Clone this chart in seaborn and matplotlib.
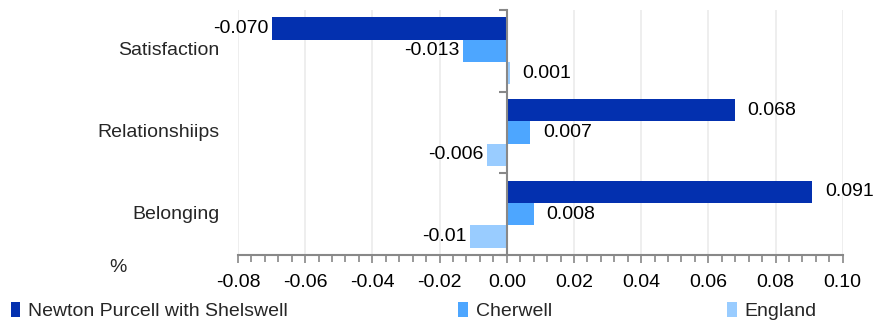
import matplotlib
matplotlib.use("Agg")
import matplotlib.pyplot as plt
from matplotlib.ticker import MultipleLocator, FixedLocator
import pandas as pd
import seaborn as sns

# values
categories = ["Satisfaction", "Relationshiips", "Belonging"]
areas = ["Newton Purcell with Shelswell", "Cherwell", "England"]
newton = [-0.070, 0.068, 0.091]
cherwell = [-0.013, 0.007, 0.008]
england = [0.001, -0.006, -0.011]
label_text = {
    "Newton Purcell with Shelswell": ["-0.070", "0.068", "0.091"],
    "Cherwell": ["-0.013", "0.007", "0.008"],
    "England": ["0.001", "-0.006", "-0.01"],
}
colours = ["#0330AF", "#4DA6FF", "#99CCFF"]

rows = []
for a, vals in zip(areas, [newton, cherwell, england]):
    for c, v in zip(categories, vals):
        rows.append({"cat": c, "area": a, "val": v})
df = pd.DataFrame(rows)

sns.set_theme(style="white")
plt.rcParams["font.family"] = ["Liberation Sans", "DejaVu Sans"]
FS = 14

fig = plt.figure(figsize=(8.88, 3.23), dpi=100)
ax = fig.add_axes([0.268, 0.2105, 0.681, 0.7585])

sns.barplot(data=df, y="cat", x="val", hue="area", order=categories,
            hue_order=areas, palette=colours, orient="h", width=0.82,
            saturation=1, errorbar=None, ax=ax, legend=True,
            linewidth=0, edgecolor="none")

ax.set_xlim(-0.08, 0.10)
ax.xaxis.set_major_locator(MultipleLocator(0.02))
ax.xaxis.set_minor_locator(MultipleLocator(0.004))
ax.set_xticklabels([f"{t:.2f}" for t in ax.get_xticks()])
ax.grid(axis="x", color="#ebebeb", linewidth=1.2)
ax.set_axisbelow(True)

for s in ["top", "right"]:
    ax.spines[s].set_visible(False)
ax.spines["left"].set_position(("data", 0))
ax.spines["left"].set_color("#888888")
ax.spines["left"].set_linewidth(1.5)
ax.spines["bottom"].set_color("#888888")
ax.spines["bottom"].set_linewidth(1.5)

ax.tick_params(axis="x", which="both", bottom=True, direction="out",
               color="#888888", labelsize=FS, labelcolor="black", pad=7.5)
ax.tick_params(axis="x", which="major", length=6, width=1.2)
ax.tick_params(axis="x", which="minor", length=5, width=1.2)

ax.yaxis.set_minor_locator(FixedLocator([-0.5, 0.5, 1.5, 2.5]))
ax.tick_params(axis="y", which="minor", left=True, length=6, width=1.5,
               color="#888888", direction="out")
ax.tick_params(axis="y", which="major", left=False, labelleft=False)
ax.set_ylabel("")
ax.set_xlabel("")

for i, c in enumerate(categories):
    ax.text(-0.0855, i, c, ha="right", va="center", fontsize=FS,
            transform=ax.transData, clip_on=False)

# negative labels sit close to the bar, positive ones further out
for cont, a in zip(ax.containers, areas):
    vals = df[df["area"] == a]["val"].tolist()
    txt = label_text[a]
    pos = [t if v >= 0 else "" for t, v in zip(txt, vals)]
    neg = [t if v < 0 else "" for t, v in zip(txt, vals)]
    ax.bar_label(cont, labels=pos, padding=9, fontsize=FS, color="black")
    ax.bar_label(cont, labels=neg, padding=2.5, fontsize=FS, color="black")

handles, labels = ax.get_legend_handles_labels()
ax.get_legend().remove()
for h, l, x in zip(handles, labels, [0.012, 0.516, 0.819]):
    fig.legend([h], [l], loc="center left", bbox_to_anchor=(x, 0.037),
               frameon=False, fontsize=FS, handlelength=0.5,
               handleheight=0.8, handletextpad=0.4, borderaxespad=0,
               borderpad=0)

fig.text(0.133, 0.172, "%", fontsize=FS, ha="center", va="center")

fig.savefig("out.png", dpi=100)
